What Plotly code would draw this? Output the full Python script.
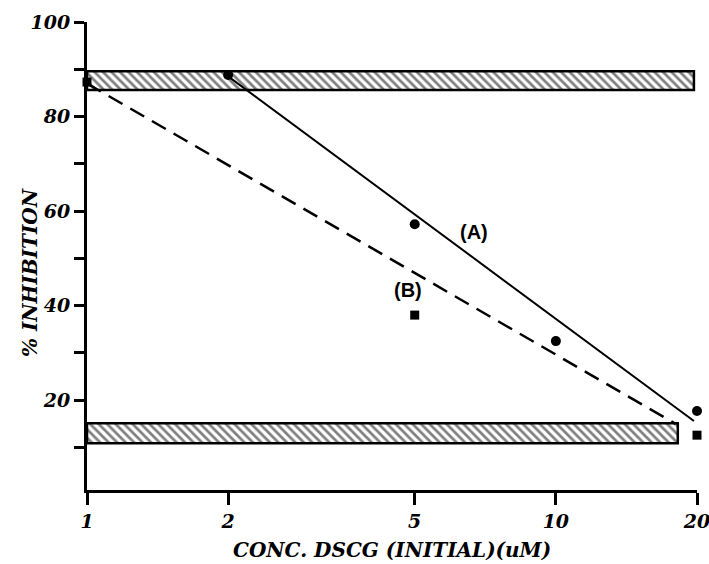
import plotly.graph_objects as go

# Data
conc_A = [2, 5, 10, 20]
inhib_A = [88.8, 57.2, 32.5, 17.7]
conc_B = [1, 5, 20]
inhib_B = [87.3, 38.0, 12.6]

fit_A_x = [2, 19.7]
fit_A_y = [88.5, 15.6]
fit_B_x = [1.0, 18.0]
fit_B_y = [87.0, 15.0]

upper_band_x = [1, 19.7]
upper_band_y = [85.6, 89.6]
lower_band_x = [1, 18.2]
lower_band_y = [10.9, 15.1]

x_ticks = [1, 2, 5, 10, 20]
x_ticklabels = ["1", "2", "5", "10", "20"]
y_ticks = [10, 20, 30, 40, 50, 60, 70, 80, 90, 100]
y_ticklabels = ["", "20", "", "40", "", "60", "", "80", "", "100"]

x_title = "CONC. DSCG (INITIAL)(uM)"
y_title = "% INHIBITION"

FONT = "DejaVu Serif"

fig = go.Figure()

def band(xs, ys):
    x0, x1 = xs
    y0, y1 = ys
    return go.Scatter(
        x=[x0, x1, x1, x0, x0], y=[y0, y0, y1, y1, y0],
        mode="lines", fill="toself", fillcolor="white",
        fillpattern=dict(shape="\\", fgcolor="black", bgcolor="white", size=6, solidity=0.45),
        line=dict(color="black", width=2.5), hoverinfo="skip", showlegend=False,
    )

fig.add_trace(band(upper_band_x, upper_band_y))
fig.add_trace(band(lower_band_x, lower_band_y))

fig.add_trace(go.Scatter(x=fit_A_x, y=fit_A_y, mode="lines",
                         line=dict(color="black", width=2), showlegend=False))
fig.add_trace(go.Scatter(x=fit_B_x, y=fit_B_y, mode="lines",
                         line=dict(color="black", width=2.5, dash="16px,9px"), showlegend=False))

fig.add_trace(go.Scatter(x=conc_A, y=inhib_A, mode="markers",
                         marker=dict(symbol="circle", size=10, color="black"),
                         cliponaxis=False, showlegend=False))
fig.add_trace(go.Scatter(x=conc_B, y=inhib_B, mode="markers",
                         marker=dict(symbol="square", size=9, color="black"),
                         cliponaxis=False, showlegend=False))

labfont = dict(family="Liberation Sans", size=20, color="black", weight="bold")
fig.add_annotation(x=0.825, y=55.6, xref="x", yref="y", text="(A)", showarrow=False, font=labfont)
fig.add_annotation(x=0.684, y=43.3, xref="x", yref="y", text="(B)", showarrow=False, font=labfont)

tickfont = dict(family=FONT, size=19, color="black", weight="bold", style="italic")
titlefont = dict(family=FONT, size=20, color="black", weight="bold", style="italic")

L, R, T, B = 87, 12, 22, 74
W, H = 709, 564
pw, ph = W - L - R, H - T - B

# axis titles placed by pixel centre (converted to paper coordinates)
fig.add_annotation(x=(392 - L) / pw, y=((H - 550) - B) / ph, xref="paper", yref="paper",
                   xanchor="center", yanchor="middle", text=x_title,
                   showarrow=False, font=titlefont)
fig.add_annotation(x=(30 - L) / pw, y=((H - 273) - B) / ph, xref="paper", yref="paper",
                   xanchor="center", yanchor="middle", text=y_title,
                   showarrow=False, font=titlefont, textangle=-90)

fig.update_xaxes(
    type="log", range=[0, 1.30103],
    tickvals=x_ticks, ticktext=x_ticklabels,
    ticks="outside", ticklen=12, tickwidth=3, tickcolor="black",
    showline=True, linecolor="black", linewidth=3,
    showgrid=False, zeroline=False, tickfont=tickfont,
    ticklabeloverflow="allow",
)
fig.update_yaxes(
    range=[1, 100],
    tickvals=y_ticks, ticktext=y_ticklabels,
    ticks="outside", ticklen=10, tickwidth=3, tickcolor="black",
    showline=True, linecolor="black", linewidth=3,
    showgrid=False, zeroline=False, tickfont=tickfont,
    ticklabeloverflow="allow",
)

fig.update_layout(
    width=W, height=H,
    margin=dict(l=L, r=R, t=T, b=B, autoexpand=False),
    paper_bgcolor="white", plot_bgcolor="white",
    showlegend=False,
)

fig.write_html("out.html", config={"displayModeBar": False},
               post_script="document.body.style.margin='0';")
